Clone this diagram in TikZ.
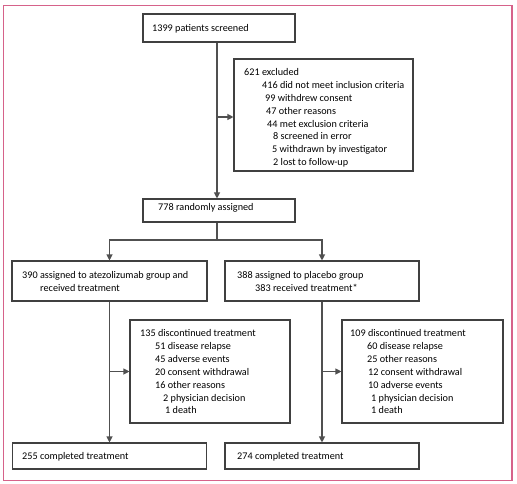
\documentclass[tikz,border=0pt]{standalone}
\usepackage{fontspec}
\setmainfont{Carlito}
\usetikzlibrary{arrows.meta}
\definecolor{frame}{RGB}{214,98,138}
\definecolor{boxline}{RGB}{64,64,64}
\definecolor{conline}{RGB}{80,80,80}
\newcommand\ind[1]{\hspace*{#1pt}}
\tikzset{
  box/.style={draw=boxline,line width=1.1pt,rectangle,inner sep=0pt},
  txt/.style={anchor=base west,inner sep=0pt,font={\fontsize{10.2}{12.9}\selectfont},text=black},
  con/.style={draw=conline,line width=1.1pt},
  arr/.style={con,-{Triangle[length=6pt,width=6pt]},shorten >=0pt}
}
\begin{document}
\begin{tikzpicture}[x=1pt,y=-1pt]
\useasboundingbox (0,0) rectangle (517,484);
\draw[frame,line width=1.5pt] (3.5,5.5) rectangle (512,480.5);
% boxes
\node[box,minimum width=152pt,minimum height=28pt] (scr) at (219,28) {};
\node[box,minimum width=179pt,minimum height=112pt] (exc) at (323.5,115) {};
\node[box,minimum width=152pt,minimum height=23pt] (ran) at (219,210.5) {};
\node[box,minimum width=195pt,minimum height=40pt] (atz) at (109.5,281) {};
\node[box,minimum width=194pt,minimum height=40pt] (pla) at (322,281) {};
\node[box,minimum width=160pt,minimum height=103pt] (dca) at (210,371.5) {};
\node[box,minimum width=161pt,minimum height=103pt] (dcp) at (422.5,371.5) {};
\node[box,minimum width=194pt,minimum height=26pt] (cpa) at (109.5,456) {};
\node[box,minimum width=194pt,minimum height=26pt] (cpp) at (322,456) {};
% texts
\node[txt] (tscr) at (152,31.5) {1399 patients screened};
\node[txt] (texc) at (244,75.5) {\begin{tabular}[t]{@{}l@{}}
621 excluded\\
\ind{18}416 did not meet inclusion criteria\\
\ind{21}99 withdrew consent\\
\ind{22}47 other reasons\\
\ind{23}44 met exclusion criteria\\
\ind{29}8 screened in error\\
\ind{28}5 withdrawn by investigator\\
\ind{29}2 lost to follow-up
\end{tabular}};
\node[txt] (tran) at (158,210.5) {778 randomly assigned};
\node[txt] (tatz) at (22,278.5) {\begin{tabular}[t]{@{}l@{}}
390 assigned to atezolizumab group and\\
\ind{18}received treatment
\end{tabular}};
\node[txt] (tpla) at (237,278.5) {\begin{tabular}[t]{@{}l@{}}
388 assigned to placebo group\\
\ind{18}383 received treatment*
\end{tabular}};
\node[txt] (tdca) at (140,336.5) {\begin{tabular}[t]{@{}l@{}}
135 discontinued treatment\\
\ind{15}51 disease relapse\\
\ind{15}45 adverse events\\
\ind{15}20 consent withdrawal\\
\ind{15}16 other reasons\\
\ind{23}2 physician decision\\
\ind{25}1 death
\end{tabular}};
\node[txt] (tdcp) at (350,336.5) {\begin{tabular}[t]{@{}l@{}}
109 discontinued treatment\\
\ind{17}60 disease relapse\\
\ind{17}25 other reasons\\
\ind{18}12 consent withdrawal\\
\ind{18}10 adverse events\\
\ind{21}1 physician decision\\
\ind{21}1 death
\end{tabular}};
\node[txt] (tcpa) at (22,459.5) {255 completed treatment};
\node[txt] (tcpp) at (237,459.5) {274 completed treatment};
% connectors
\coordinate (sp) at (217,117);
\draw[arr] (scr.south -| sp) -- (ran.north -| sp);
\draw[arr] (sp) -- (sp -| exc.west);
\coordinate (br) at (217,240);
\draw[con] (ran.south -| br) -- (br);
\draw[arr] (br) -| (atz.north);
\draw[arr] (br) -| (pla.north);
\draw[arr] (atz.south) -- (cpa.north);
\draw[arr] (pla.south) -- (cpp.north);
\draw[arr] (atz.south |- dca.west) -- (dca.west);
\draw[arr] (pla.south |- dcp.west) -- (dcp.west);
\end{tikzpicture}
\end{document}
